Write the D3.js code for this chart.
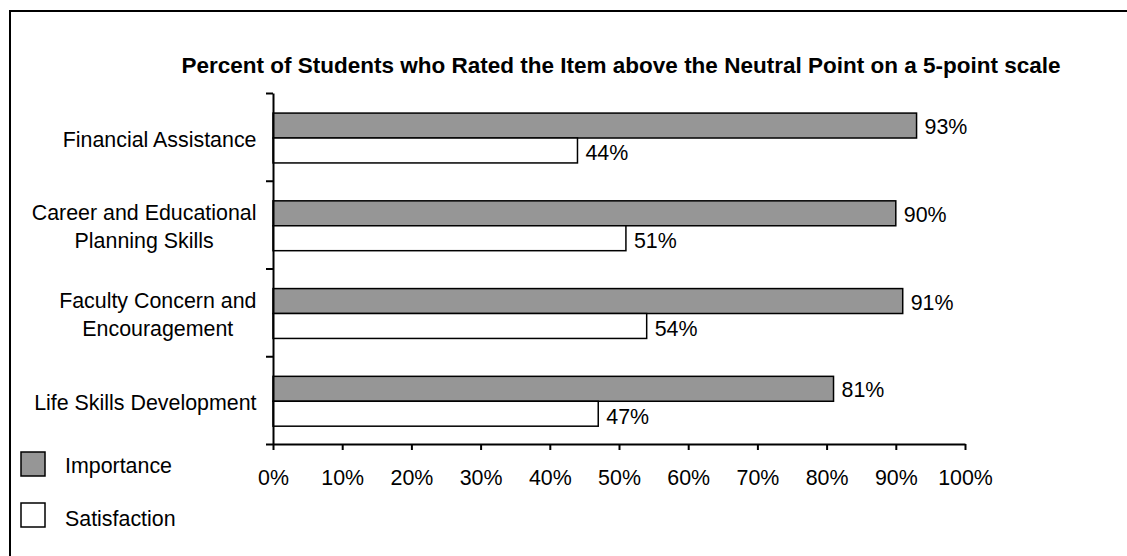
<!DOCTYPE html>
<html>
<head>
<meta charset="utf-8">
<script src="https://cdn.jsdelivr.net/npm/d3@7"></script>
<style>
  body { margin: 0; background: #fff; }
  text { font-family: "Liberation Sans", Arial, sans-serif; font-size: 21.4px; fill: #000; }
  .title { font-weight: bold; font-size: 22.5px; }
  .axis path, .axis line { stroke: #000; stroke-width: 2; }
  .axis text { font-size: 21.4px; font-family: "Liberation Sans", Arial, sans-serif; fill: #000; }
</style>
</head>
<body>
<div id="chart"></div>
<script>
var width = 1127,
    height = 556;

// data
var categories = ["Financial Assistance", "Career and Educational\nPlanning Skills",
    "Faculty Concern and\nEncouragement", "Life Skills Development"];
var seriesNames = ["Importance", "Satisfaction"];
var importance = [0.93, 0.90, 0.91, 0.81];
var satisfaction = [0.44, 0.51, 0.54, 0.47];
var xTicks = [0, 0.1, 0.2, 0.3, 0.4, 0.5, 0.6, 0.7, 0.8, 0.9, 1];
var titleText = "Percent of Students who Rated the Item above the Neutral Point on a 5-point scale";

var fills = { "Importance": "#969696", "Satisfaction": "#ffffff" };

var svg = d3.select("#chart").append("svg")
    .attr("width", width)
    .attr("height", height);

// outer frame (runs off the right and bottom edge like the original)
svg.append("rect")
    .attr("x", 10).attr("y", 11)
    .attr("width", 1300).attr("height", 700)
    .attr("fill", "none")
    .attr("stroke", "#000")
    .attr("stroke-width", 2);

var x = d3.scaleLinear()
    .domain([0, 1])
    .range([273, 965]);

var y = d3.scaleBand()
    .domain(categories)
    .range([93, 444])
    .padding(0);

var ySeries = d3.scaleBand()
    .domain(seriesNames)
    .range([0, y.bandwidth()])
    .paddingInner(0)
    .paddingOuter(0.76)
    .align(0.53);

var yEdge = d3.scaleLinear()
    .domain([0, categories.length])
    .range([93, 444]);

svg.append("text")
    .attr("class", "title")
    .attr("x", 621)
    .attr("y", 73)
    .attr("text-anchor", "middle")
    .text(titleText);

var rows = categories.map(function (c, i) {
    return [
        { cat: c, key: "Importance", value: importance[i] },
        { cat: c, key: "Satisfaction", value: satisfaction[i] }
    ];
});
var bars = d3.merge(rows);

svg.append("g")
    .selectAll("rect")
    .data(bars)
    .enter().append("rect")
    .attr("x", x(0))
    .attr("y", d => y(d.cat) + ySeries(d.key))
    .attr("width", d => x(d.value) - x(0))
    .attr("height", ySeries.bandwidth())
    .attr("fill", d => fills[d.key])
    .attr("stroke", "#000")
    .attr("stroke-width", 1.5);

svg.append("g")
    .selectAll("text")
    .data(bars)
    .enter().append("text")
    .attr("x", d => x(d.value) + 8)
    .attr("y", d => y(d.cat) + ySeries(d.key) + ySeries.bandwidth() / 2 + (d.key == "Importance" ? 8.5 : 10))
    .text(d => d3.format(".0%")(d.value));

// axes
svg.append("g")
    .attr("class", "axis")
    .attr("transform", "translate(0,444)")
    .call(d3.axisBottom(x)
        .tickValues(xTicks)
        .tickFormat(d3.format(".0%"))
        .tickSize(6)
        .tickSizeOuter(0)
        .tickPadding(20));

svg.append("g")
    .attr("class", "axis")
    .attr("transform", "translate(273,0)")
    .call(d3.axisLeft(yEdge)
        .ticks(categories.length)
        .tickFormat("")
        .tickSize(7)
        .tickSizeOuter(0));

// category labels, lines centred on each other, block right aligned
var catLabels = svg.append("g")
    .selectAll("text")
    .data(categories)
    .enter().append("text")
    .attr("text-anchor", "middle");

catLabels.each(function (c) {
    var lines = c.split("\n");
    var t = d3.select(this);
    var lineH = 27.7;
    var cy = y(c) + y.bandwidth() / 2 + 2;
    var first = cy - (lines.length - 1) * lineH / 2 + 7.7;
    lines.forEach(function (l, k) {
        t.append("tspan").attr("y", first + k * lineH).text(l);
    });
    var maxW = 0;
    t.selectAll("tspan").each(function () {
        maxW = Math.max(maxW, this.getComputedTextLength());
    });
    t.selectAll("tspan").attr("x", 256.5 - maxW / 2);
});

// legend
var legend = svg.append("g")
    .selectAll("g")
    .data(seriesNames)
    .enter().append("g")
    .attr("transform", (d, i) => "translate(21," + (452 + i * 51) + ")");

legend.append("rect")
    .attr("width", 24)
    .attr("height", 24)
    .attr("fill", d => fills[d])
    .attr("stroke", "#000")
    .attr("stroke-width", 1.5);

legend.append("text")
    .attr("x", 44)
    .attr("y", (d, i) => 21 + i * 1.5)
    .text(d => d);
</script>
</body>
</html>
